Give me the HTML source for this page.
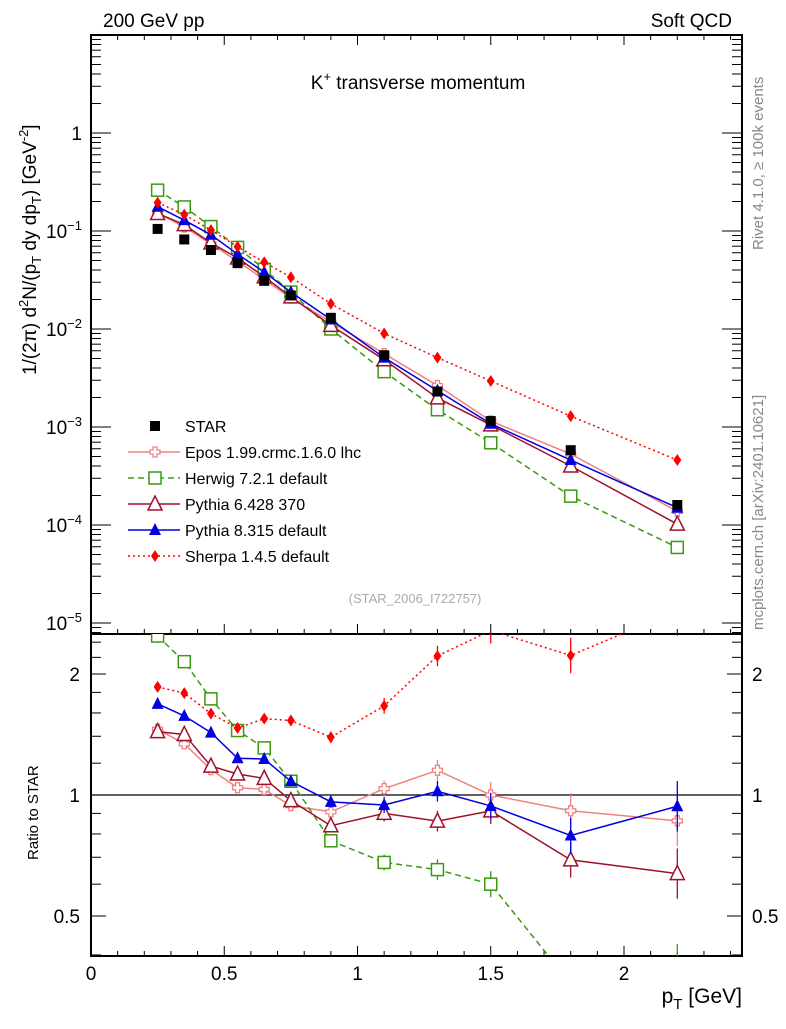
<!DOCTYPE html>
<html><head><meta charset="utf-8"><style>
body{margin:0;background:#fff}
svg{font-family:"Liberation Sans",sans-serif}
</style></head><body>
<svg id="c" width="786" height="1024" xmlns="http://www.w3.org/2000/svg">
<defs>
<clipPath id="cm"><rect x="91" y="35" width="651" height="599"/></clipPath>
<clipPath id="cr"><rect x="91" y="634" width="651" height="322"/></clipPath>
</defs>
<text x="103" y="27" font-size="19">200 GeV pp</text>
<text x="732" y="27" font-size="19" text-anchor="end">Soft QCD</text>
<text x="418" y="89" font-size="19" text-anchor="middle">K<tspan dy="-8" font-size="13">+</tspan><tspan dy="8"> transverse momentum</tspan></text>
<text x="415" y="603" font-size="13" fill="#aaa" text-anchor="middle">(STAR_2006_I722757)</text>
<text transform="translate(763,250) rotate(-90)" font-size="15" fill="#888">Rivet 4.1.0, ≥ 100k events</text>
<text transform="translate(763,630) rotate(-90)" font-size="15" fill="#888">mcplots.cern.ch [arXiv:2401.10621]</text>
<text transform="translate(36,375) rotate(-90)" font-size="19">1/(2π)   d<tspan dy="-8" font-size="13">2</tspan><tspan dy="8">N/(p</tspan><tspan dy="5" font-size="13">T</tspan><tspan dy="-5"> dy dp</tspan><tspan dy="5" font-size="13">T</tspan><tspan dy="-5">) [GeV</tspan><tspan dy="-8" font-size="13">-2</tspan><tspan dy="8">]</tspan></text>
<text transform="translate(38,860) rotate(-90)" font-size="15">Ratio to STAR</text>
<text x="742" y="1003" font-size="21" text-anchor="end">p<tspan dy="6" font-size="15">T</tspan><tspan dy="-6"> [GeV]</tspan></text>
<g id="axes"></g>
<g id="main" clip-path="url(#cm)"></g>
<g id="ratio" clip-path="url(#cr)"></g>
<g id="legend"></g>
</svg>
<script>
const xVals=[0.25,0.35,0.45,0.55,0.65,0.75,0.9,1.1,1.3,1.5,1.8,2.2];
const star=[0.105,0.082,0.064,0.047,0.031,0.022,0.013,0.0054,0.0023,0.00115,0.00058,0.00016];
const epos=[0.153,0.110,0.074,0.049,0.032,0.0207,0.0118,0.0056,0.00265,0.00115,0.00053,0.000138];
const herwig=[0.261,0.176,0.111,0.068,0.0406,0.0238,0.0100,0.00367,0.00150,0.00069,0.000197,0.000059];
const pythia6=[0.151,0.116,0.0755,0.053,0.0341,0.0213,0.0109,0.00486,0.00198,0.00105,0.00040,0.000102];
const pythia8=[0.177,0.129,0.0915,0.058,0.0381,0.0238,0.0125,0.0051,0.00235,0.00108,0.00046,0.00015];
const sherpa=[0.195,0.147,0.102,0.069,0.048,0.0337,0.0181,0.0090,0.0051,0.00295,0.00129,0.00046];
const xTickLabels=["0","0.5","1","1.5","2"];
const NS="http://www.w3.org/2000/svg";
const X0=91,X1=742,YT=35,YD=634,YB=956;
const sx=v=>X0+v*266.5;
const sy=v=>133-98*Math.log10(v);
const sr=v=>795-121*Math.log2(v);
function mk(tag,at,parent){const e=document.createElementNS(NS,tag);for(const k in at)e.setAttribute(k,at[k]);parent.appendChild(e);return e;}
const ax=document.getElementById('axes');
let f=mk('rect',{x:X0,y:YT,width:X1-X0,height:YB-YT,fill:'none',stroke:'#000','stroke-width':2},ax);

let dl=mk('line',{x1:X0,x2:X1,y1:YD,y2:YD,stroke:'#000','stroke-width':2},ax);

let one=mk('line',{x1:X0,x2:X1,y1:sr(1),y2:sr(1),stroke:'#000','stroke-width':1.2},ax);

for(let i=0;i<=24;i++){const v=i/10,x=sx(v);if(x>X1)break;const L=i%5==0?10:5;
 for(const yy of [YD,YB]){mk('line',{x1:x,x2:x,y1:yy,y2:yy-L,stroke:'#000'},ax);}
 mk('line',{x1:x,x2:x,y1:YT,y2:YT+L,stroke:'#000'},ax);}
xTickLabels.forEach((t,i)=>{const e=mk('text',{x:sx(i*0.5),y:980,'font-size':19,'text-anchor':'middle'},ax);e.textContent=t;
 });
for(let d=-6;d<=1;d++){for(let m=1;m<=9;m++){const v=m*Math.pow(10,d),y=sy(v);if(y<YT||y>YD)continue;const L=m==1?20:10;
 mk('line',{x1:X0,x2:X0+L,y1:y,y2:y,stroke:'#000'},ax);mk('line',{x1:X1,x2:X1-L,y1:y,y2:y,stroke:'#000'},ax);}}
const dec=[[0,"1"],[-1,"10"],[-2,"10"],[-3,"10"],[-4,"10"],[-5,"10"]];
dec.forEach(([d,t])=>{const y=sy(Math.pow(10,d));const e=mk('text',{x:82,y:y+7,'font-size':19,'text-anchor':'end'},ax);
 e.textContent=t;if(d!=0){const ts=mk('tspan',{dy:-8,'font-size':13},e);ts.textContent='−'+(-d);}
 });
[0.4,0.5,0.6,0.7,0.8,0.9,1,1.2,1.4,1.6,1.8,2,2.2,2.4].forEach(v=>{const y=sr(v);if(y<YD||y>YB)return;const L=[0.5,1,2].includes(v)?15:10;
 mk('line',{x1:X0,x2:X0+L,y1:y,y2:y,stroke:'#000'},ax);mk('line',{x1:X1,x2:X1-L,y1:y,y2:y,stroke:'#000'},ax);});
[[0.5,"0.5"],[1,"1"],[2,"2"]].forEach(([v,t])=>{for(const [x,a] of [[80,'end'],[752,'start']]){const e=mk('text',{x:x,y:sr(v)+7,'font-size':19,'text-anchor':a},ax);e.textContent=t;
 }});
function marker(type,x,y,color,g){let e;const s=6;
 if(type=='sq')e=mk('rect',{x:x-5,y:y-5,width:10,height:10,fill:'#000'},g);
 else if(type=='osq')e=mk('rect',{x:x-s,y:y-s,width:2*s,height:2*s,fill:'#fff',stroke:color,'stroke-width':1.5},g);
 else if(type=='otri')e=mk('polygon',{points:`${x},${y-8} ${x-7},${y+6} ${x+7},${y+6}`,fill:'#fff',stroke:color,'stroke-width':1.5},g);
 else if(type=='tri')e=mk('polygon',{points:`${x},${y-7} ${x-6},${y+5} ${x+6},${y+5}`,fill:color},g);
 else if(type=='dia')e=mk('polygon',{points:`${x},${y-6} ${x-4},${y} ${x},${y+6} ${x+4},${y}`,fill:color},g);
 else if(type=='cross')e=mk('path',{d:`M${x-2},${y-5}h4v3h3v4h-3v3h-4v-3h-3v-4h3z`,fill:'#fff',stroke:color,'stroke-width':1.3},g);
 return e;}
const series=[
 {n:'epos',d:epos,c:'#f08080',m:'cross',da:'',lab:'Epos 1.99.crmc.1.6.0 lhc'},
 {n:'herwig',d:herwig,c:'#3a9a10',m:'osq',da:'6,4',lab:'Herwig 7.2.1 default'},
 {n:'pythia6',d:pythia6,c:'#a01028',m:'otri',da:'',lab:'Pythia 6.428 370'},
 {n:'pythia8',d:pythia8,c:'#0000e0',m:'tri',da:'',lab:'Pythia 8.315 default'},
 {n:'sherpa',d:sherpa,c:'#ff0000',m:'dia',da:'2,3',lab:'Sherpa 1.4.5 default'}];
const gm=document.getElementById('main'),gr=document.getElementById('ratio'),gl=document.getElementById('legend');
series.forEach(s=>{
 const g=mk('g',{},gm);
 const p=xVals.map((x,i)=>`${sx(x)},${sy(s.d[i])}`).join(' ');
 mk('polyline',{points:p,fill:'none',stroke:s.c,'stroke-width':1.5,'stroke-dasharray':s.da},g);
 xVals.forEach((x,i)=>{const e=marker(s.m,sx(x),sy(s.d[i]),s.c,g);});
 const h=mk('g',{},gr);
 const q=xVals.map((x,i)=>`${sx(x)},${sr(s.d[i]/star[i])}`).join(' ');
 mk('polyline',{points:q,fill:'none',stroke:s.c,'stroke-width':1.5,'stroke-dasharray':s.da},h);
 xVals.forEach((x,i)=>{const r=s.d[i]/star[i],y=sr(r),eb=121*Math.log2(1+0.01+0.03*x*x);
  mk('line',{x1:sx(x),x2:sx(x),y1:y-eb,y2:y+eb,stroke:s.c,'stroke-width':1.3},h);
  const e=marker(s.m,sx(x),y,s.c,h);});
});
const gs=mk('g',{},gm);
xVals.forEach((x,i)=>{const e=marker('sq',sx(x),sy(star[i]),'#000',gs);});
const L0=426,LS=26;
let le=mk('g',{},gl);
marker('sq',155,L0,'#000',le);let t=mk('text',{x:185,y:L0+6,'font-size':16},le);t.textContent='STAR';
series.forEach((s,i)=>{const y=L0+LS*(i+1);const g=mk('g',{},gl);
 mk('line',{x1:128,x2:180,y1:y,y2:y,stroke:s.c,'stroke-width':1.5,'stroke-dasharray':s.da},g);marker(s.m,155,y,s.c,g);
 const tt=mk('text',{x:185,y:y+6,'font-size':16},g);tt.textContent=s.lab;});
</script>
</body></html>
